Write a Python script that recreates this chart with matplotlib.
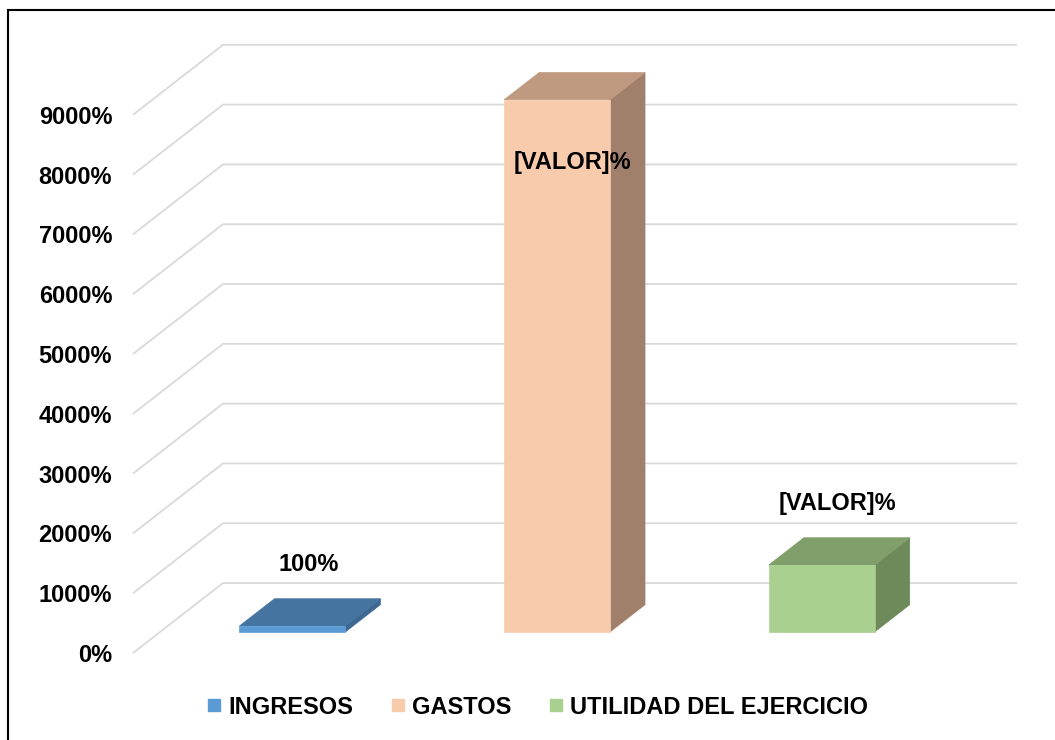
import matplotlib
matplotlib.use("Agg")
import matplotlib.pyplot as plt
from matplotlib.patches import Polygon, Rectangle
from matplotlib.lines import Line2D

plt.rcParams['font.family'] = ['Liberation Sans', 'DejaVu Sans']
plt.rcParams['font.weight'] = 'bold'

# data
categories = ["INGRESOS", "GASTOS", "UTILIDAD DEL EJERCICIO"]
values = [100, 8900, 1120]
labels = ["100%", "[VALOR]%", "[VALOR]%"]
label_inside = [False, True, False]
ticks = list(range(0, 10000, 1000))
tick_labels = [f"{t}%" for t in ticks]

front_cols = ["#5b9bd5", "#f8cbad", "#a9d08e"]
top_cols = ["#4674a0", "#bf9a81", "#809f6b"]
side_cols = ["#3d6892", "#a0806a", "#6e895a"]

W, H = 1055, 740
fig = plt.figure(figsize=(W / 100, H / 100), dpi=100)
ax = fig.add_axes([133 / W, (H - 653) / H, 794 / W, 598 / H])
ax.set_xlim(-0.5, 2.5)
ax.set_ylim(0, 10000)

# fake 3d depth (category units, value units)
depth_x, depth_y = 0.34, 1170
f0, f1 = 0.30, 0.69
bw = 0.40

# walls / gridlines
for t in ticks:
    xs = [-0.5, -0.5 + depth_x, 2.5 + depth_x]
    ys = [t, t + depth_y, t + depth_y]
    ax.plot(xs, ys, color="#d9d9d9", lw=1.3, zorder=1, clip_on=False,
            solid_capstyle='butt')

dx = (f1 - f0) * depth_x
dy = (f1 - f0) * depth_y
for i, v in enumerate(values):
    x0 = i - bw / 2 + f0 * depth_x
    x1 = x0 + bw
    y0 = f0 * depth_y
    y1 = y0 + v
    front = [(x0, y0), (x1, y0), (x1, y1), (x0, y1)]
    top = [(x0, y1), (x1, y1), (x1 + dx, y1 + dy), (x0 + dx, y1 + dy)]
    side = [(x1, y0), (x1 + dx, y0 + dy), (x1 + dx, y1 + dy), (x1, y1)]
    for pts, c in [(side, side_cols[i]), (top, top_cols[i]), (front, front_cols[i])]:
        ax.add_patch(Polygon(pts, closed=True, fc=c, ec=c, lw=0.5, zorder=3,
                             clip_on=False))
    lx = i + f0 * depth_x + 0.06
    if label_inside[i]:
        ly = y1 - 1050
    else:
        ly = y1 + dy + 580
    ax.text(lx, ly, labels[i], ha="center", va="center", fontsize=17,
            fontweight="bold", zorder=5)

ax.set_yticks(ticks)
ax.set_yticklabels(tick_labels, fontsize=17, fontweight="bold")
ax.set_xticks([])
ax.tick_params(axis="y", length=0, pad=15)
for s in ax.spines.values():
    s.set_visible(False)
ax.patch.set_visible(False)

handles = [Line2D([], [], marker="s", ls="", color=c, markersize=8)
           for c in front_cols]
fig.legend(handles, categories, loc="center", bbox_to_anchor=(538 / W, 1 - 707 / H),
           ncol=3, frameon=False, handlelength=0.5, handletextpad=0.35,
           columnspacing=1.65, prop={"size": 17, "weight": "bold"})

fig.add_artist(Rectangle((8 / W, -0.05), 1.2, 1 - 10 / H + 0.05,
                         transform=fig.transFigure, fill=False, lw=1.5,
                         ec="black"))

fig.savefig("out.png", dpi=100)
